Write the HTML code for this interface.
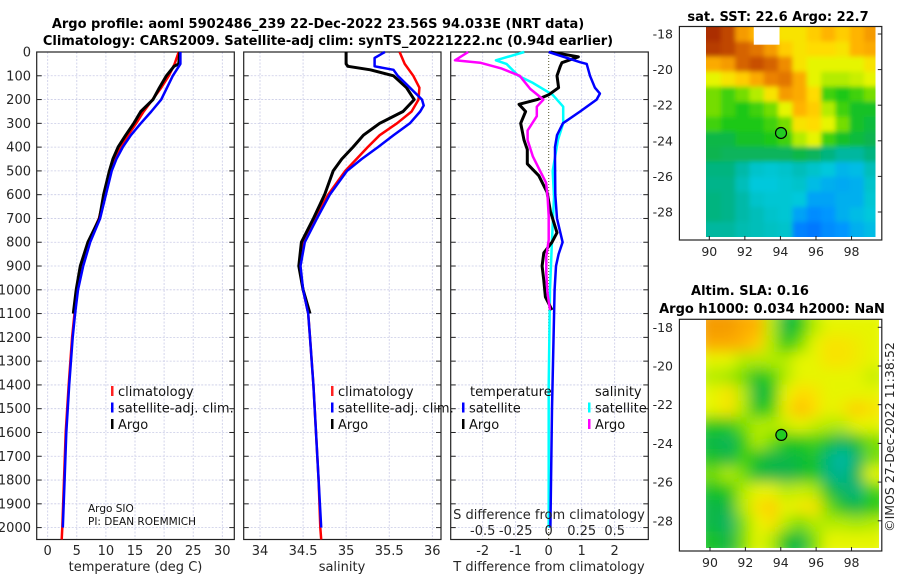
<!DOCTYPE html>
<html><head><meta charset="utf-8"><style>
html,body{margin:0;padding:0;background:#fff;}
svg{display:block;font-family:"DejaVu Sans","Liberation Sans",sans-serif;}
</style></head><body>
<svg id="fig" width="900" height="580" viewBox="0 0 900 580" xmlns="http://www.w3.org/2000/svg">
<defs>
<filter id="blurSST" x="-5%" y="-5%" width="110%" height="110%"><feGaussianBlur stdDeviation="2.5"/></filter>
<filter id="blurSLA" x="-5%" y="-5%" width="110%" height="110%"><feGaussianBlur stdDeviation="7"/></filter>
<clipPath id="clipSST"><rect x="706" y="26.5" width="169.5" height="210.5"/></clipPath>
<clipPath id="clipSLA"><rect x="706" y="319.3" width="173" height="228.7"/></clipPath>
</defs>
<text x="318" y="28" text-anchor="middle" font-weight="bold" font-size="13">Argo profile: aoml 5902486_239 22-Dec-2022 23.56S 94.033E (NRT data)</text>
<text x="328" y="45" text-anchor="middle" font-weight="bold" font-size="13">Climatology: CARS2009. Satellite-adj clim: synTS_20221222.nc (0.94d earlier)</text>
</svg>
<script>
// ---------- data ----------
const tDepthClim = [0,50,100,150,200,250,300,350,400,450,500,600,700,800,900,1000,1100,1200,1400,1600,1800,2000,2050];
const tClim = [22.5,21.8,20.8,19.5,18.0,16.5,15.2,13.8,12.6,11.6,10.9,9.8,8.8,7.0,5.9,5.0,4.6,4.2,3.6,3.1,2.8,2.5,2.4];
const tDepthSat = [0,50,100,150,200,250,300,350,400,450,500,600,700,800,900,1000,1100,1200,1400,1600,1800,2000];
const tSat = [22.8,22.8,21.5,20.5,19.5,17.8,16.0,14.3,12.9,11.8,11.0,10.0,9.0,7.3,6.1,5.2,4.7,4.3,3.7,3.2,2.9,2.6];
const tDepthArgo = [0,50,60,100,150,200,250,300,350,400,450,500,600,700,800,900,1000,1100];
const tArgo = [22.7,22.5,21.7,20.4,19.2,18.1,16.0,14.8,13.4,12.1,11.2,10.6,9.6,8.9,6.9,5.6,4.9,4.4];

const sDepthClim = [0,50,100,150,200,250,300,350,400,450,500,600,700,800,900,1000,1100,1200,1400,1600,1800,2000,2050];
const sClim = [35.62,35.68,35.78,35.85,35.84,35.76,35.59,35.39,35.25,35.12,34.99,34.79,34.64,34.5,34.46,34.5,34.56,34.58,34.62,34.65,34.68,34.7,34.71];
const sDepthSat = [0,25,60,75,100,150,200,225,250,300,350,400,450,500,600,700,800,900,1000,1100,1200,1400,1600,1800,2000];
const sSat = [35.45,35.33,35.33,35.55,35.6,35.74,35.88,35.9,35.86,35.74,35.55,35.37,35.18,35.01,34.81,34.66,34.52,34.47,34.5,34.56,34.58,34.62,34.65,34.68,34.71];
const sDepthArgo = [0,50,60,75,100,150,200,250,300,350,400,450,500,600,700,800,900,1000,1100];
const sArgo = [35.0,35.0,35.02,35.28,35.55,35.7,35.79,35.66,35.39,35.2,35.08,34.95,34.85,34.75,34.62,34.48,34.45,34.5,34.58];

const dtDepthSat = [0,43,50,100,150,175,200,250,300,350,400,450,600,700,800,850,900,1000,1500,2000];
const dtSat = [0,0.95,1.15,1.25,1.4,1.55,1.45,0.95,0.43,0.25,0.19,0.19,0.2,0.25,0.42,0.3,0.22,0.18,0.1,0.05];
const dtDepthArgo = [0,20,45,60,100,150,180,200,220,250,300,370,410,470,520,590,670,760,800,845,900,960,1030,1085];
const dtArgo = [0.05,0.9,0.4,0.35,0.25,0.3,0,-0.35,-0.9,-0.7,-0.85,-0.75,-0.65,-0.65,-0.3,-0.05,0.05,0.25,0.1,-0.15,-0.2,-0.15,-0.1,0.1];
const dsDepthSat = [0,35,50,100,130,180,230,300,370,500,610,790,1000,1400,2000];
const dsSat = [-0.185,-0.4,-0.32,-0.23,-0.12,0.03,0.11,0.11,0.07,0.03,0.04,0.025,0.01,0.0,0.0];
const dsDepthArgo = [0,35,45,70,100,155,200,230,270,330,370,440,500,550,610,690,790,860,930,1010,1085];
const dsArgo = [-0.61,-0.71,-0.52,-0.355,-0.22,-0.14,-0.04,-0.09,-0.09,-0.16,-0.16,-0.12,-0.065,-0.02,-0.008,0,0,-0.018,-0.018,-0.01,0.01];

const depthTicks = [0,100,200,300,400,500,600,700,800,900,1000,1100,1200,1300,1400,1500,1600,1700,1800,1900,2000];
const tTicks = [0,5,10,15,20,25,30];
const sTicks = [34,34.5,35,35.5,36];
const sTickLabels = ['34','34.5','35','35.5','36'];
const dtTicks = [-2,-1,0,1,2];
const dsTicks = [-0.5,-0.25,0,0.25,0.5];
const dsTickLabels = ['-0.5','-0.25','0','0.25','0.5'];
const lonTicks = [90,92,94,96,98];
const latTicks = [-18,-20,-22,-24,-26,-28];

const sstGrid = [
[0.95,0.9,0.75,0.7,0.65,0.6,0.6,0.65,0.7,0.65,0.7,0.75],
[0.92,0.9,0.85,0.82,0.75,0.65,0.6,0.62,0.62,0.6,0.7,0.72],
[0.72,0.75,0.85,0.88,0.85,0.78,0.6,0.55,0.55,0.55,0.55,0.6],
[0.55,0.6,0.65,0.72,0.8,0.82,0.72,0.55,0.5,0.5,0.52,0.55],
[0.45,0.42,0.45,0.5,0.6,0.75,0.72,0.62,0.42,0.4,0.42,0.45],
[0.45,0.42,0.4,0.42,0.45,0.55,0.7,0.65,0.5,0.42,0.38,0.38],
[0.42,0.4,0.4,0.4,0.42,0.45,0.6,0.62,0.55,0.45,0.38,0.36],
[0.35,0.35,0.38,0.38,0.4,0.42,0.5,0.55,0.42,0.38,0.36,0.34],
[0.34,0.33,0.33,0.33,0.33,0.33,0.35,0.33,0.3,0.27,0.27,0.3],
[0.3,0.3,0.26,0.22,0.21,0.22,0.24,0.22,0.2,0.17,0.18,0.24],
[0.29,0.29,0.24,0.2,0.2,0.21,0.22,0.18,0.16,0.15,0.16,0.22],
[0.3,0.29,0.26,0.22,0.21,0.21,0.2,0.14,0.14,0.16,0.16,0.21],
[0.3,0.29,0.26,0.24,0.22,0.21,0.14,0.1,0.12,0.16,0.18,0.2],
[0.27,0.27,0.25,0.24,0.23,0.22,0.08,0.06,0.1,0.12,0.16,0.18]];
const slaGrid = [
[0.75,0.75,0.72,0.7,0.5,0.35,0.4,0.5,0.55,0.55,0.55,0.55],
[0.72,0.72,0.7,0.65,0.5,0.4,0.45,0.55,0.6,0.6,0.58,0.55],
[0.55,0.55,0.5,0.5,0.5,0.5,0.55,0.55,0.6,0.6,0.58,0.55],
[0.5,0.48,0.45,0.38,0.42,0.5,0.55,0.55,0.55,0.55,0.55,0.52],
[0.55,0.6,0.5,0.35,0.38,0.55,0.62,0.6,0.55,0.55,0.55,0.55],
[0.55,0.6,0.5,0.38,0.42,0.58,0.68,0.62,0.55,0.58,0.65,0.6],
[0.4,0.4,0.45,0.5,0.5,0.52,0.55,0.52,0.5,0.5,0.55,0.55],
[0.35,0.33,0.4,0.5,0.45,0.4,0.4,0.42,0.38,0.33,0.38,0.45],
[0.38,0.35,0.42,0.38,0.35,0.35,0.36,0.38,0.3,0.26,0.32,0.45],
[0.45,0.5,0.45,0.36,0.35,0.34,0.36,0.4,0.3,0.28,0.35,0.55],
[0.38,0.4,0.5,0.55,0.55,0.5,0.52,0.5,0.38,0.32,0.3,0.42],
[0.35,0.35,0.5,0.6,0.65,0.55,0.58,0.6,0.45,0.38,0.35,0.4],
[0.35,0.32,0.45,0.55,0.6,0.5,0.45,0.5,0.5,0.5,0.48,0.5],
[0.38,0.35,0.45,0.55,0.5,0.38,0.35,0.45,0.55,0.55,0.55,0.55]];
const argoLon = 94.033, argoLat = -23.56;

// ---------- helpers ----------
const NS = 'http://www.w3.org/2000/svg';
const svg = document.getElementById('fig');
function el(tag, attrs, parent) {
  const e = document.createElementNS(NS, tag);
  for (const k in attrs) e.setAttribute(k, attrs[k]);
  (parent || svg).appendChild(e);
  return e;
}
function txt(s, attrs, parent) { const e = el('text', attrs, parent); e.textContent = s; return e; }
const yD = d => 52 + d * 0.2378;
const TOP = 52, BOT = 539.5;
const panels = [
  {name:'temperature', l:36.7, r:234.3, x:v => 47.7 + 5.82 * v},
  {name:'salinity', l:243.7, r:441, x:v => 260 + 86.15 * (v - 34)},
  {name:'difference', l:450.7, r:648.3, x:v => 548.7 + 33 * v, xs:v => 548.7 + 132 * v}
];
function line(xs, ds, xf, color, w, name, g) {
  const pts = xs.map((v, i) => xf(v).toFixed(1) + ',' + yD(ds[i]).toFixed(1)).join(' ');
  const p = el('polyline', {points: pts, fill: 'none', stroke: color, 'stroke-width': w, 'stroke-linejoin': 'round'}, g);
  
  
}

// ---------- profile panels ----------
panels.forEach((P, pi) => {
  const g = el('g', {});
  
  
  depthTicks.forEach(d => {
    const gl = el('line', {x1: P.l, x2: P.r, y1: yD(d), y2: yD(d), stroke: '#c9cbe6', 'stroke-width': 0.8, 'stroke-dasharray': '2,1.5'}, g);
    
    
    [P.l, P.r].forEach((xx, side) => {
      const tk = el('line', {x1: xx, x2: side ? xx - 5 : xx + 5, y1: yD(d), y2: yD(d), stroke: '#222', 'stroke-width': 1}, g);
      
      
    });
  });
  const vt = pi === 0 ? tTicks : pi === 1 ? sTicks : dtTicks;
  vt.forEach((v, i) => {
    const xx = P.x(v);
    const isZero = pi === 2 && v === 0;
    const gl = el('line', {x1: xx, x2: xx, y1: TOP, y2: BOT, stroke: isZero ? '#55552a' : '#c9cbe6', 'stroke-width': isZero ? 1 : 0.8, 'stroke-dasharray': isZero ? '1,2' : '2,1.5'}, g);
    
    
    const lab = pi === 1 ? sTickLabels[i] : String(v);
    const t = txt(lab, {x: xx, y: 555, 'text-anchor': 'middle', 'font-size': 13, fill: '#262626'});
    
    
  });
  const box = el('rect', {x: P.l, y: TOP, width: P.r - P.l, height: BOT - TOP, fill: 'none', stroke: '#222', 'stroke-width': 1.2}, g);
  
  
});
depthTicks.forEach(d => {
  const t = txt(String(d), {x: 31, y: yD(d) + 4.5, 'text-anchor': 'end', 'font-size': 13, fill: '#262626'});
  
  
});
line(tClim, tDepthClim, panels[0].x, '#ff0000', 2.5, 'temperature-climatology-line');
line(tArgo, tDepthArgo, panels[0].x, '#000000', 3, 'temperature-argo-line');
line(tSat, tDepthSat, panels[0].x, '#0000ff', 2.5, 'temperature-satellite-line');
line(sClim, sDepthClim, panels[1].x, '#ff0000', 2.5, 'salinity-climatology-line');
line(sArgo, sDepthArgo, panels[1].x, '#000000', 3, 'salinity-argo-line');
line(sSat, sDepthSat, panels[1].x, '#0000ff', 2.5, 'salinity-satellite-line');
line(dsSat, dsDepthSat, panels[2].xs, '#00ffff', 2.5, 'salinity-diff-satellite-line');
line(dtArgo, dtDepthArgo, panels[2].x, '#000000', 3, 'temperature-diff-argo-line');
line(dsArgo, dsDepthArgo, panels[2].xs, '#ff00ff', 2.5, 'salinity-diff-argo-line');
line(dtSat, dtDepthSat, panels[2].x, '#0000ff', 2.5, 'temperature-diff-satellite-line');

dsTicks.forEach((v, i) => {
  const t = txt(dsTickLabels[i], {x: panels[2].xs(v), y: 535, 'text-anchor': 'middle', 'font-size': 13, fill: '#262626'});
  
  
});
[['temperature (deg C)', 135.5, 'temperature-axis-title'], ['salinity', 342, 'salinity-axis-title'], ['T difference from climatology', 549, 't-diff-axis-title']].forEach(a => {
  const t = txt(a[0], {x: a[1], y: 571, 'text-anchor': 'middle', 'font-size': 13, fill: '#262626'});
  
  
});
const sdt = txt('S difference from climatology', {x: 549, y: 519, 'text-anchor': 'middle', 'font-size': 13, fill: '#262626'});



function legendEntry(mx, y, color, label, name) {
  const m = el('rect', {x: mx, y: y - 10, width: 2.5, height: 10, fill: color});
  
  
  const t = txt(label, {x: mx + 7, y: y, 'font-size': 13, fill: '#111'});
  
  
}
[[111, 'p1'], [331, 'p2']].forEach(L => {
  legendEntry(L[0], 396, '#ff2020', 'climatology', 'legend-climatology-' + L[1]);
  legendEntry(L[0], 412.5, '#0000ff', 'satellite-adj. clim.', 'legend-satellite-' + L[1]);
  legendEntry(L[0], 429, '#000000', 'Argo', 'legend-argo-' + L[1]);
});
const lt = txt('temperature', {x: 470, y: 396, 'font-size': 13, fill: '#111'});


const ls = txt('salinity', {x: 595, y: 396, 'font-size': 13, fill: '#111'});


legendEntry(462, 412.5, '#0000ff', 'satellite', 'legend-t-satellite');
legendEntry(462, 429, '#000000', 'Argo', 'legend-t-argo');
legendEntry(588, 412.5, '#00ffff', 'satellite', 'legend-s-satellite');
legendEntry(588, 429, '#ff00ff', 'Argo', 'legend-s-argo');

const c1 = txt('Argo SIO', {x: 88, y: 512, 'font-size': 10.5, fill: '#111'});


const c2 = txt('PI: DEAN ROEMMICH', {x: 88, y: 525, 'font-size': 10.5, fill: '#111'});



// ---------- maps ----------
const stops = [[0,[0,90,255]],[0.12,[0,150,255]],[0.2,[0,200,220]],[0.28,[0,180,150]],[0.34,[10,180,80]],[0.4,[30,200,20]],[0.47,[150,230,0]],[0.55,[230,245,0]],[0.62,[255,220,0]],[0.7,[255,180,0]],[0.8,[235,130,0]],[0.88,[200,80,0]],[1,[150,20,0]]];
function cmap(v) {
  for (let i = 1; i < stops.length; i++) {
    if (v <= stops[i][0]) {
      const a = stops[i-1], b = stops[i], f = (v - a[0]) / (b[0] - a[0]);
      const c = a[1].map((q, k) => Math.round(q + (b[1][k] - q) * f));
      return 'rgb(' + c.join(',') + ')';
    }
  }
  return 'rgb(150,20,0)';
}
function drawMap(M) {
  const g = el('g', {});
  
  
  const lx = lon => M.x0 + (lon - 90) * M.kx;
  const ly = lat => M.y0 + (-18 - lat) * M.ky;
  const cells = el('g', {'clip-path': M.clip}, g);
  const inner = el('g', {filter: M.filter}, cells);
  const rows = M.grid.length, cols = M.grid[0].length;
  const lonA = 89.85, lonB = 99.5, latA = -17.58, latB = -29.4;
  const dlon = (lonB - lonA) / cols, dlat = (latA - latB) / rows;
  M.grid.forEach((row, r) => row.forEach((v, c) => {
    const x = lx(lonA + c * dlon), y = ly(latA - r * dlat);
    const pad = (r === 0 || c === 0 || r === rows - 1 || c === cols - 1) ? 10 : 0;
    const rc = el('rect', {x: x - (c === 0 ? pad : 0), y: y - (r === 0 ? pad : 0), width: lx(lonA + (c + 1) * dlon) - x + 0.6 + (c === 0 || c === cols - 1 ? pad : 0), height: ly(latA - (r + 1) * dlat) - y + 0.6 + (r === 0 || r === rows - 1 ? pad : 0), fill: cmap(v)}, inner);
    
    
  }));
  if (M.nan) {
    const w = el('rect', {x: lx(92.5), y: M.top, width: lx(93.95) - lx(92.5), height: ly(-18.6) - M.top, fill: '#fff'}, g);
    
    
  }
  const box = el('rect', {x: 679.4, y: M.top, width: 202.4, height: M.bot - M.top, fill: 'none', stroke: '#222', 'stroke-width': 1.2}, g);
  
  
  lonTicks.forEach(lon => {
    const tk = el('line', {x1: lx(lon), x2: lx(lon), y1: M.bot, y2: M.bot - 4, stroke: '#222'}, g);
    
    
    const t = txt(String(lon), {x: lx(lon), y: M.bot + 16, 'text-anchor': 'middle', 'font-size': 12.5, fill: '#262626'}, g);
    
    
  });
  latTicks.forEach(lat => {
    const tk = el('line', {x1: 881.8, x2: 877.8, y1: ly(lat), y2: ly(lat), stroke: '#222'}, g);
    
    
    const t = txt(String(lat), {x: 673, y: ly(lat) + 4.5, 'text-anchor': 'end', 'font-size': 12.5, fill: '#262626'}, g);
    
    
  });
  const mk = el('circle', {cx: lx(argoLon), cy: ly(argoLat), r: 5.5, fill: '#22cc22', stroke: '#000', 'stroke-width': 1.2}, g);
  
  
  M.titles.forEach(T => {
    const t = txt(T[0], {x: T[1], y: T[2], 'text-anchor': 'middle', 'font-weight': 'bold', 'font-size': 13}, g);
    
    
  });
}
drawMap({name: 'sst-map', grid: sstGrid, x0: 709.3, kx: 17.78, y0: 34, ky: 17.8, top: 26.5, bot: 240, clip: 'url(#clipSST)', filter: 'url(#blurSST)', nan: true,
  titles: [['sat. SST: 22.6 Argo: 22.7', 778, 21, 'sst-map-title']]});
drawMap({name: 'sla-map', grid: slaGrid, x0: 710, kx: 17.69, y0: 327.3, ky: 19.35, top: 319.3, bot: 551, clip: 'url(#clipSLA)', filter: 'url(#blurSLA)', nan: false,
  titles: [['Altim. SLA: 0.16', 750, 295, 'sla-map-title'], ['Argo h1000: 0.034 h2000: NaN', 772, 313, 'sla-map-subtitle']]});
const stamp = txt('©IMOS 27-Dec-2022 11:38:52', {x: 0, y: 0, 'text-anchor': 'middle', 'font-size': 12.5, fill: '#262626', transform: 'translate(894,437) rotate(-90)'});


</script>
</body></html>
